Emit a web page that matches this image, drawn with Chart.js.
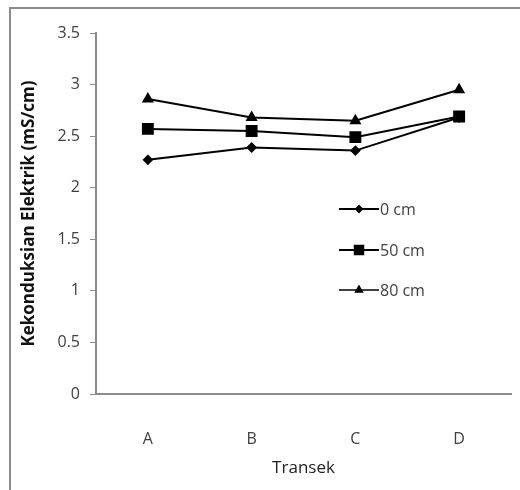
<!DOCTYPE html>
<html>
<head>
<meta charset="utf-8">
<script src="https://cdn.jsdelivr.net/npm/chart.js@4/dist/chart.umd.min.js"></script>
<style>
  body { margin: 0; background: #fff; }
  #wrap { position: relative; width: 520px; height: 490px; }
  #frame { position: absolute; left: 9px; top: 7px; right: -10px; bottom: -10px;
           border-left: 2px solid #8c8c8c; border-top: 2px solid #8c8c8c; }
  canvas { position: absolute; left: 0; top: 0; }
</style>
</head>
<body>
<div id="wrap">
  <div id="frame"></div>
  <canvas id="chart" width="520" height="490"></canvas>
</div>
<script>
const transek = ["A", "B", "C", "D"];
const depth0 = [2.27, 2.39, 2.36, 2.68];
const depth50 = [2.57, 2.55, 2.49, 2.69];
const depth80 = [2.86, 2.68, 2.65, 2.95];
const yTicks = [0, 0.5, 1, 1.5, 2, 2.5, 3, 3.5];

const axisGray = "#8c8c8c";
const textGray = "#404040";

// legend di dalam area plot, kanan tengah
const sideLegend = {
    id: "sideLegend",
    afterDraw(chart) {
        const ctx = chart.ctx;
        const x0 = 339, x1 = 379;
        const rows = [209, 250, 290];
        ctx.save();
        chart.data.datasets.forEach((ds, i) => {
            const y = rows[i];
            ctx.strokeStyle = "#000";
            ctx.lineWidth = i === 2 ? 1.5 : ds.borderWidth;
            ctx.beginPath();
            ctx.moveTo(x0, y);
            ctx.lineTo(x1, y);
            ctx.stroke();
            ctx.fillStyle = "#000";
            ctx.strokeStyle = "#000";
            Chart.helpers.drawPoint(ctx, {
                pointStyle: ds.pointStyle,
                radius: ds.pointRadius - 1,
                rotation: 0,
                borderWidth: 1,
            }, (x0 + x1) / 2, y);
            ctx.fillStyle = textGray;
            ctx.font = "16px 'Open Sans', sans-serif";
            ctx.textBaseline = "middle";
            ctx.textAlign = "left";
            ctx.fillText(ds.label, x1 + 1, y + 1);
        });
        ctx.restore();
    },
};

new Chart(document.getElementById("chart"), {
    type: "line",
    data: {
        labels: transek,
        datasets: [
            {
                label: "0 cm",
                data: depth0,
                borderColor: "#000",
                backgroundColor: "#000",
                borderWidth: 2,
                pointStyle: "rectRot",
                pointRadius: 4,
                tension: 0,
            },
            {
                label: "50 cm",
                data: depth50,
                borderColor: "#000",
                backgroundColor: "#000",
                borderWidth: 2,
                pointStyle: "rect",
                pointRadius: 7,
                tension: 0,
            },
            {
                label: "80 cm",
                data: depth80,
                borderColor: "#000",
                backgroundColor: "#000",
                borderWidth: 2,
                pointStyle: "triangle",
                pointRadius: 5,
                tension: 0,
            },
        ],
    },
    options: {
        responsive: false,
        animation: false,
        layout: { padding: { left: 15, top: 33, right: 1, bottom: 8 } },
        plugins: {
            legend: { display: false },
            tooltip: { enabled: false },
        },
        scales: {
            x: {
                offset: true,
                grid: { display: false },
                border: { display: true, color: axisGray, width: 2 },
                ticks: {
                    color: textGray,
                    padding: 28,
                    font: { family: "'Open Sans', sans-serif", size: 16 },
                },
                title: {
                    display: true,
                    text: "Transek",
                    color: "#222",
                    padding: { top: 4, bottom: 4 },
                    font: { family: "'Open Sans', sans-serif", size: 17 },
                },
                afterFit(scale) { scale.height = 88; },
            },
            y: {
                min: 0,
                max: 3.5,
                afterBuildTicks(scale) {
                    scale.ticks = yTicks.map(v => ({ value: v }));
                },
                grid: {
                    drawOnChartArea: false,
                    drawTicks: true,
                    tickLength: 6,
                    color: axisGray,
                },
                border: { display: true, color: axisGray, width: 2 },
                ticks: {
                    color: textGray,
                    padding: 10,
                    callback: v => String(v),
                    font: { family: "'Open Sans', sans-serif", size: 16 },
                },
                title: {
                    display: true,
                    text: "Kekonduksian Elektrik (mS/cm)",
                    color: "#111",
                    padding: { top: 4, bottom: 4 },
                    font: { family: "'Open Sans', sans-serif", size: 17, weight: "bold" },
                },
                afterFit(scale) { scale.width = 81; },
            },
        },
    },
    plugins: [sideLegend],
});
</script>
</body>
</html>
